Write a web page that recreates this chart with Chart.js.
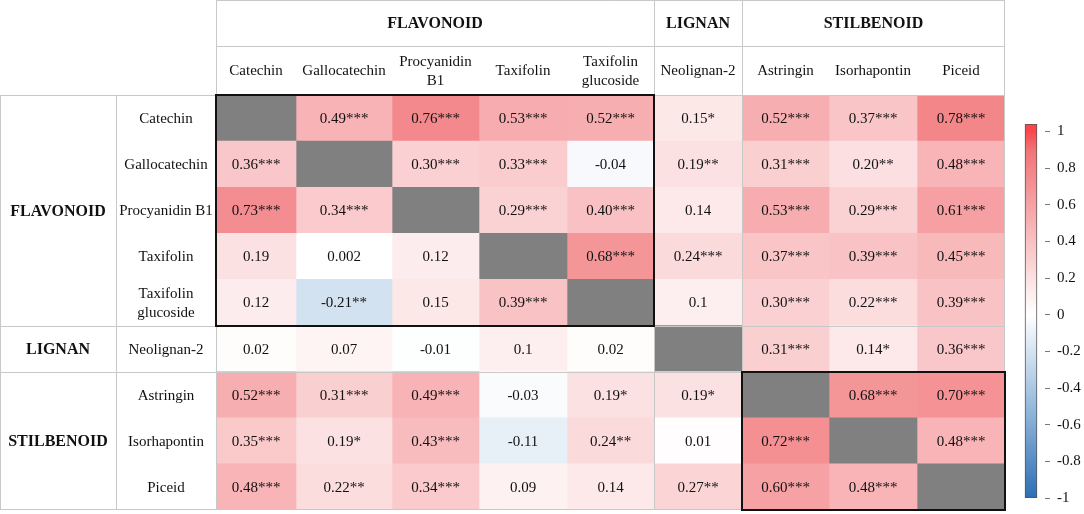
<!DOCTYPE html>
<html><head><meta charset="utf-8">
<script src="https://cdn.jsdelivr.net/npm/chart.js@4"></script>
<style>
html,body{margin:0;padding:0;background:#fff;overflow:hidden}
#wrap{position:relative;width:1084px;height:514px}
#main{position:absolute;left:0;top:0}
#cbar{position:absolute;left:1000px;top:0}
</style></head><body>
<div id="wrap"><canvas id="main" width="1084" height="514"></canvas><canvas id="cbar" width="84" height="514"></canvas></div>
<script>
// ---- categories ----
const groupNames = ["FLAVONOID", "LIGNAN", "STILBENOID"];
const groupSizes = [5, 1, 3];
const columnLabels = ["Catechin", "Gallocatechin", "Procyanidin\nB1", "Taxifolin", "Taxifolin\nglucoside", "Neolignan-2", "Astringin", "Isorhapontin", "Piceid"];
const rowLabels = ["Catechin", "Gallocatechin", "Procyanidin B1", "Taxifolin", "Taxifolin\nglucoside", "Neolignan-2", "Astringin", "Isorhapontin", "Piceid"];

// ---- correlation values (as printed; null = diagonal) ----
const catechin      = [null, "0.49***", "0.76***", "0.53***", "0.52***", "0.15*", "0.52***", "0.37***", "0.78***"];
const gallocatechin = ["0.36***", null, "0.30***", "0.33***", "-0.04", "0.19**", "0.31***", "0.20**", "0.48***"];
const procyanidinB1 = ["0.73***", "0.34***", null, "0.29***", "0.40***", "0.14", "0.53***", "0.29***", "0.61***"];
const taxifolin     = ["0.19", "0.002", "0.12", null, "0.68***", "0.24***", "0.37***", "0.39***", "0.45***"];
const taxifolinGluc = ["0.12", "-0.21**", "0.15", "0.39***", null, "0.1", "0.30***", "0.22***", "0.39***"];
const neolignan2    = ["0.02", "0.07", "-0.01", "0.1", "0.02", null, "0.31***", "0.14*", "0.36***"];
const astringin     = ["0.52***", "0.31***", "0.49***", "-0.03", "0.19*", "0.19*", null, "0.68***", "0.70***"];
const isorhapontin  = ["0.35***", "0.19*", "0.43***", "-0.11", "0.24**", "0.01", "0.72***", null, "0.48***"];
const piceid        = ["0.48***", "0.22**", "0.34***", "0.09", "0.14", "0.27**", "0.60***", "0.48***", null];
const matrix = [catechin, gallocatechin, procyanidinB1, taxifolin, taxifolinGluc, neolignan2, astringin, isorhapontin, piceid];

// ---- colour-bar ticks ----
const colorbarTicks = [1, 0.8, 0.6, 0.4, 0.2, 0, -0.2, -0.4, -0.6, -0.8, -1];

// ---- layout (relative column widths) ----
const columnWidths = [80, 96, 87, 88, 87, 88, 87, 88, 88];
const colEdges = [0];
columnWidths.forEach(w => colEdges.push(colEdges[colEdges.length - 1] + w));

// ---- colour map ----
const posStops = [[0, [255, 255, 255]], [0.9, [241, 115, 119]], [1, [250, 70, 75]]];
const negStops = [[0, [255, 255, 255]], [0.5, [150, 185, 220]], [1, [45, 110, 180]]];
function colorFor(v) {
  const stops = v >= 0 ? posStops : negStops;
  const a = Math.min(1, Math.abs(v));
  for (let k = 1; k < stops.length; k++) {
    if (a <= stops[k][0] + 1e-9) {
      const [t0, c0] = stops[k - 1], [t1, c1] = stops[k];
      const f = (a - t0) / (t1 - t0);
      const c = c0.map((x, i) => Math.round(x + (c1[i] - x) * f));
      return `rgb(${c[0]},${c[1]},${c[2]})`;
    }
  }
  const c = stops[stops.length - 1][1];
  return `rgb(${c[0]},${c[1]},${c[2]})`;
}

const SERIF = "'Liberation Serif', 'Times New Roman', serif";
const GRID = '#c8c8c8';
const HEADER_ROW1 = 46;
const GROUP_COL = 116;

function drawText(ctx, text, x, y, lh) {
  const lines = text.split('\n');
  const y0 = y - (lines.length - 1) * lh / 2;
  lines.forEach((l, k) => ctx.fillText(l, x, y0 + k * lh));
}

const tablePlugin = {
  id: 'table',
  afterDatasetsDraw(chart) {
    const ctx = chart.ctx;
    const xs = chart.scales.x, ys = chart.scales.y;
    const area = chart.chartArea;
    const colPx = colEdges.map(e => Math.round(xs.getPixelForValue(e)));
    const n = rowLabels.length;
    const step = ys.getPixelForValue(1) - ys.getPixelForValue(0);
    const rowPx = [];
    for (let i = 0; i <= n; i++) rowPx.push(Math.round(ys.getPixelForValue(0) - step / 2 + i * step));
    const top = rowPx[0], bottom = rowPx[n], left = colPx[0], right = colPx[colPx.length - 1];

    ctx.save();
    // values
    ctx.fillStyle = '#111';
    ctx.font = `15px ${SERIF}`;
    ctx.textAlign = 'center';
    ctx.textBaseline = 'middle';
    chart.data.datasets.forEach((ds, j) => {
      const meta = chart.getDatasetMeta(j);
      meta.data.forEach((el, i) => {
        const t = matrix[i][j];
        if (t === null) return;
        ctx.fillText(t, (el.x + el.base) / 2, el.y + 1);
      });
    });

    // group boundaries
    const gStart = [0];
    groupSizes.forEach(s => gStart.push(gStart[gStart.length - 1] + s));

    // grid lines (gray)
    ctx.strokeStyle = GRID;
    ctx.lineWidth = 1;
    const line = (x1, y1, x2, y2) => { ctx.beginPath(); ctx.moveTo(x1, y1); ctx.lineTo(x2, y2); ctx.stroke(); };
    line(left, 0.5, right, 0.5);
    line(left, HEADER_ROW1 + 0.5, right, HEADER_ROW1 + 0.5);
    line(0, top + 0.5, right, top + 0.5);
    line(0, bottom - 0.5, right, bottom - 0.5);
    line(0.5, top, 0.5, bottom);
    line(GROUP_COL + 0.5, top, GROUP_COL + 0.5, bottom);
    gStart.forEach((g, k) => {
      const x = colPx[g] + (k === gStart.length - 1 ? -0.5 : 0.5);
      line(x, 0, x, bottom);
      if (k > 0 && k < gStart.length - 1) {
        const y = rowPx[g] + 0.5;
        line(0, y, right, y);
      }
    });

    // black boxes on diagonal blocks
    ctx.strokeStyle = '#111';
    ctx.lineWidth = 2;
    groupSizes.forEach((s, k) => {
      if (s < 2) return;
      const a = gStart[k], b = gStart[k + 1];
      ctx.strokeRect(colPx[a], rowPx[a], colPx[b] - colPx[a], rowPx[b] - rowPx[a]);
    });

    // header texts
    ctx.fillStyle = '#111';
    ctx.font = `bold 16px ${SERIF}`;
    groupNames.forEach((g, k) => {
      const a = gStart[k], b = gStart[k + 1];
      ctx.fillText(g, (colPx[a] + colPx[b]) / 2, HEADER_ROW1 / 2 + 1);
      ctx.fillText(g, GROUP_COL / 2, (rowPx[a] + rowPx[b]) / 2 + 1);
    });
    ctx.font = `15px ${SERIF}`;
    columnLabels.forEach((c, j) => {
      drawText(ctx, c, (colPx[j] + colPx[j + 1]) / 2, (HEADER_ROW1 + top) / 2 + 1, 19);
    });
    rowLabels.forEach((r, i) => {
      drawText(ctx, r, (GROUP_COL + left) / 2, (rowPx[i] + rowPx[i + 1]) / 2 + 1, 19);
    });
    ctx.restore();
  }
};

const datasets = columnLabels.map((c, j) => ({
  label: c,
  data: matrix.map(() => [colEdges[j], colEdges[j + 1]]),
  backgroundColor: ctx => {
    const t = matrix[ctx.dataIndex][j];
    return t === null ? '#808080' : colorFor(parseFloat(t));
  },
  borderWidth: 0,
  grouped: false,
  barPercentage: 1,
  categoryPercentage: 1
}));

new Chart(document.getElementById('main'), {
  type: 'bar',
  data: { labels: rowLabels.map(r => r.replace('\n', ' ')), datasets },
  options: {
    indexAxis: 'y',
    responsive: false,
    animation: false,
    layout: { padding: { left: 216, right: 79, top: 95, bottom: 4 } },
    plugins: { legend: { display: false }, tooltip: { enabled: false } },
    scales: {
      x: { type: 'linear', min: 0, max: colEdges[colEdges.length - 1], display: false },
      y: { type: 'category', display: false, offset: true }
    }
  },
  plugins: [tablePlugin]
});

// ---- colour bar ----
new Chart(document.getElementById('cbar'), {
  type: 'bar',
  data: {
    labels: [''],
    datasets: [{
      data: [[-1, 1.04]],
      backgroundColor: c => {
        const ch = c.chart;
        if (!ch.chartArea) return '#fff';
        const ys = ch.scales.y;
        const g = ch.ctx.createLinearGradient(0, ys.getPixelForValue(-1), 0, ys.getPixelForValue(1));
        for (let k = 0; k <= 40; k++) g.addColorStop(k / 40, colorFor(-1 + k * 0.05));
        return g;
      },
      borderColor: '#555',
      borderWidth: 1,
      borderSkipped: false,
      barThickness: 12
    }]
  },
  options: {
    responsive: false,
    animation: false,
    layout: { padding: { left: 17, right: 0, top: 124, bottom: 6 } },
    plugins: { legend: { display: false }, tooltip: { enabled: false } },
    scales: {
      x: { display: false },
      y: {
        position: 'right',
        min: -1, max: 1.04,
        afterBuildTicks: s => { s.ticks = colorbarTicks.map(v => ({ value: v })); },
        afterFit: s => { s.width = 39; },
        grid: { drawOnChartArea: false, drawTicks: true, tickLength: 5, color: '#777' },
        border: { display: false },
        ticks: {
          padding: 7,
          color: '#111',
          font: { family: SERIF, size: 15 },
          callback: v => String(Math.round(v * 10) / 10)
        }
      }
    }
  }
});
</script>
</body></html>
